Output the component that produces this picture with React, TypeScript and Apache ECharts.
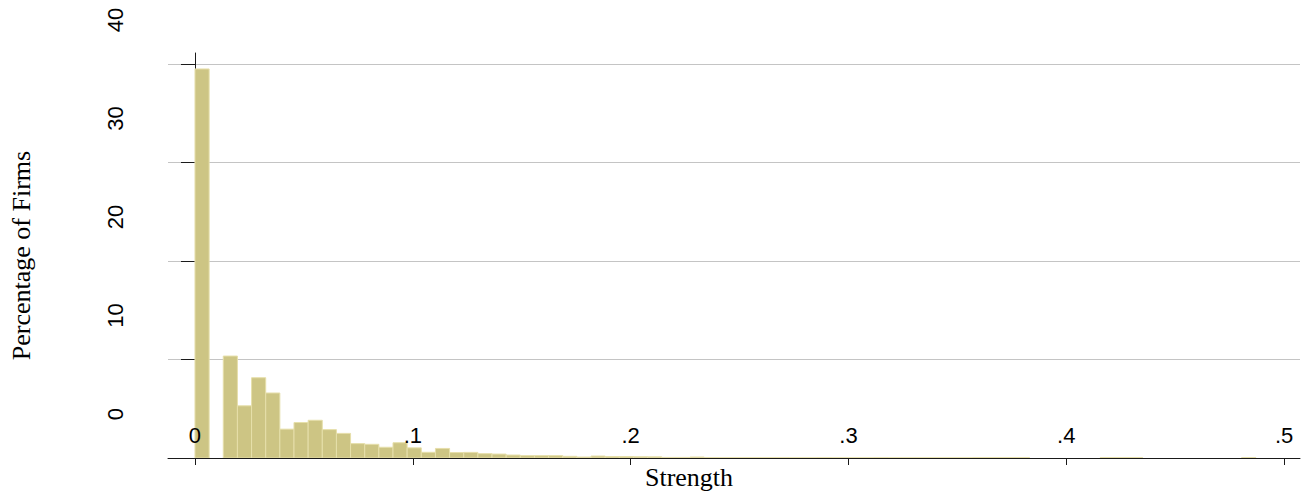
import React, { useEffect, useRef } from 'react';
import * as echarts from 'echarts';

// Histogram: 77 bins of equal width from 0 to 0.5
const binStart = 0;
const binWidth = 0.5 / 77;
const percentages = [
  39.5, 0, 10.35, 5.3, 8.15, 6.6, 2.93, 3.6, 3.83, 2.88,
  2.5, 1.46, 1.39, 1.09, 1.55, 1.03, 0.58, 0.97, 0.55, 0.57,
  0.44, 0.4, 0.3, 0.24, 0.24, 0.24, 0.17, 0.1, 0.2, 0.15,
  0.15, 0.13, 0.12, 0.06, 0.06, 0.1, 0.04, 0.03, 0.03, 0.03,
  0.03, 0.03, 0.02, 0.02, 0.03, 0.02, 0.02, 0.02, 0.03, 0.02,
  0.02, 0.02, 0.02, 0.02, 0.02, 0.04, 0.04, 0.04, 0.04, 0,
  0, 0, 0, 0, 0.04, 0.04, 0.04, 0, 0, 0,
  0, 0, 0, 0, 0.04, 0, 0,
];
const xTickValues = [0, 0.1, 0.2, 0.3, 0.4, 0.5];
const xTickLabels = ['0', '.1', '.2', '.3', '.4', '.5'];
const yTickValues = [0, 10, 20, 30, 40];
const yTickLabels = ['0', '10', '20', '30', '40'];

export default function App() {
  const ref = useRef<HTMLDivElement>(null);
  useEffect(() => {
    const chart = echarts.init(ref.current!, null, { renderer: 'svg' });
    const data = percentages.map((v, i) => [
      binStart + i * binWidth,
      binStart + (i + 1) * binWidth,
      v,
    ]);
    const lookup = (vals: number[], labels: string[]) => (v: number) => {
      const idx = vals.findIndex((t) => Math.abs(t - v) < 1e-9);
      return idx >= 0 ? labels[idx] : '';
    };
    chart.setOption({
      animation: false,
      grid: { left: 167, right: 2, top: 53, bottom: 38, containLabel: false },
      xAxis: {
        type: 'value',
        z: 5,
        min: -0.01239,
        max: 0.5073,
        axisLine: { show: true, onZero: false, lineStyle: { color: '#1a1a1a', width: 1 } },
        axisTick: {
          show: true,
          customValues: xTickValues,
          length: 7,
          lineStyle: { color: '#1a1a1a', width: 1 },
        },
        axisLabel: {
          customValues: xTickValues,
          inside: true,
          margin: 12,
          formatter: lookup(xTickValues, xTickLabels),
          fontSize: 22,
          fontFamily: '"Liberation Sans", Arial, sans-serif',
          color: '#000',
        },
        splitLine: { show: false },
        name: 'Strength',
        nameLocation: 'middle',
        nameGap: 6,
        nameTextStyle: {
          fontFamily: '"Liberation Serif", "Times New Roman", serif',
          fontSize: 26,
          color: '#000',
          verticalAlign: 'top',
          padding: [0, 90, 0, 0],
        },
      },
      yAxis: {
        type: 'value',
        min: 0,
        max: 41.12,
        axisLine: { show: true, lineStyle: { color: '#1a1a1a', width: 1 } },
        axisTick: {
          show: true,
          customValues: yTickValues,
          length: 14,
          lineStyle: { color: '#1a1a1a', width: 1 },
        },
        axisLabel: {
          customValues: yTickValues,
          rotate: 90,
          margin: 42,
          padding: [0, 0, 0, 88],
          formatter: lookup(yTickValues, yTickLabels),
          fontSize: 22,
          fontFamily: '"Liberation Sans", Arial, sans-serif',
          color: '#000',
        },
        splitLine: { show: true, lineStyle: { color: '#c4c4c4', width: 1 } },
        name: 'Percentage of Firms',
        nameLocation: 'middle',
        nameGap: 134,
        nameTextStyle: {
          fontFamily: '"Liberation Serif", "Times New Roman", serif',
          fontSize: 26,
          color: '#000',
        },
      },
      series: [
        {
          type: 'custom',
          data,
          encode: { x: [0, 1], y: 2 },
          clip: true,
          renderItem: (params: any, api: any) => {
            const v = api.value(2);
            if (!(v > 0)) return null;
            const p0 = api.coord([api.value(0), v]);
            const p1 = api.coord([api.value(1), 0]);
            return {
              type: 'rect',
              shape: { x: p0[0], y: p0[1], width: p1[0] - p0[0], height: p1[1] - p0[1] },
              style: { fill: '#cdc584', stroke: '#e6dfaa', lineWidth: 1 },
            };
          },
        },
      ],
    });
    return () => chart.dispose();
  }, []);
  return (
    <div
      ref={ref}
      style={{ position: 'fixed', left: 0, top: 0, width: 1302, height: 496, background: '#fff' }}
    />
  );
}
